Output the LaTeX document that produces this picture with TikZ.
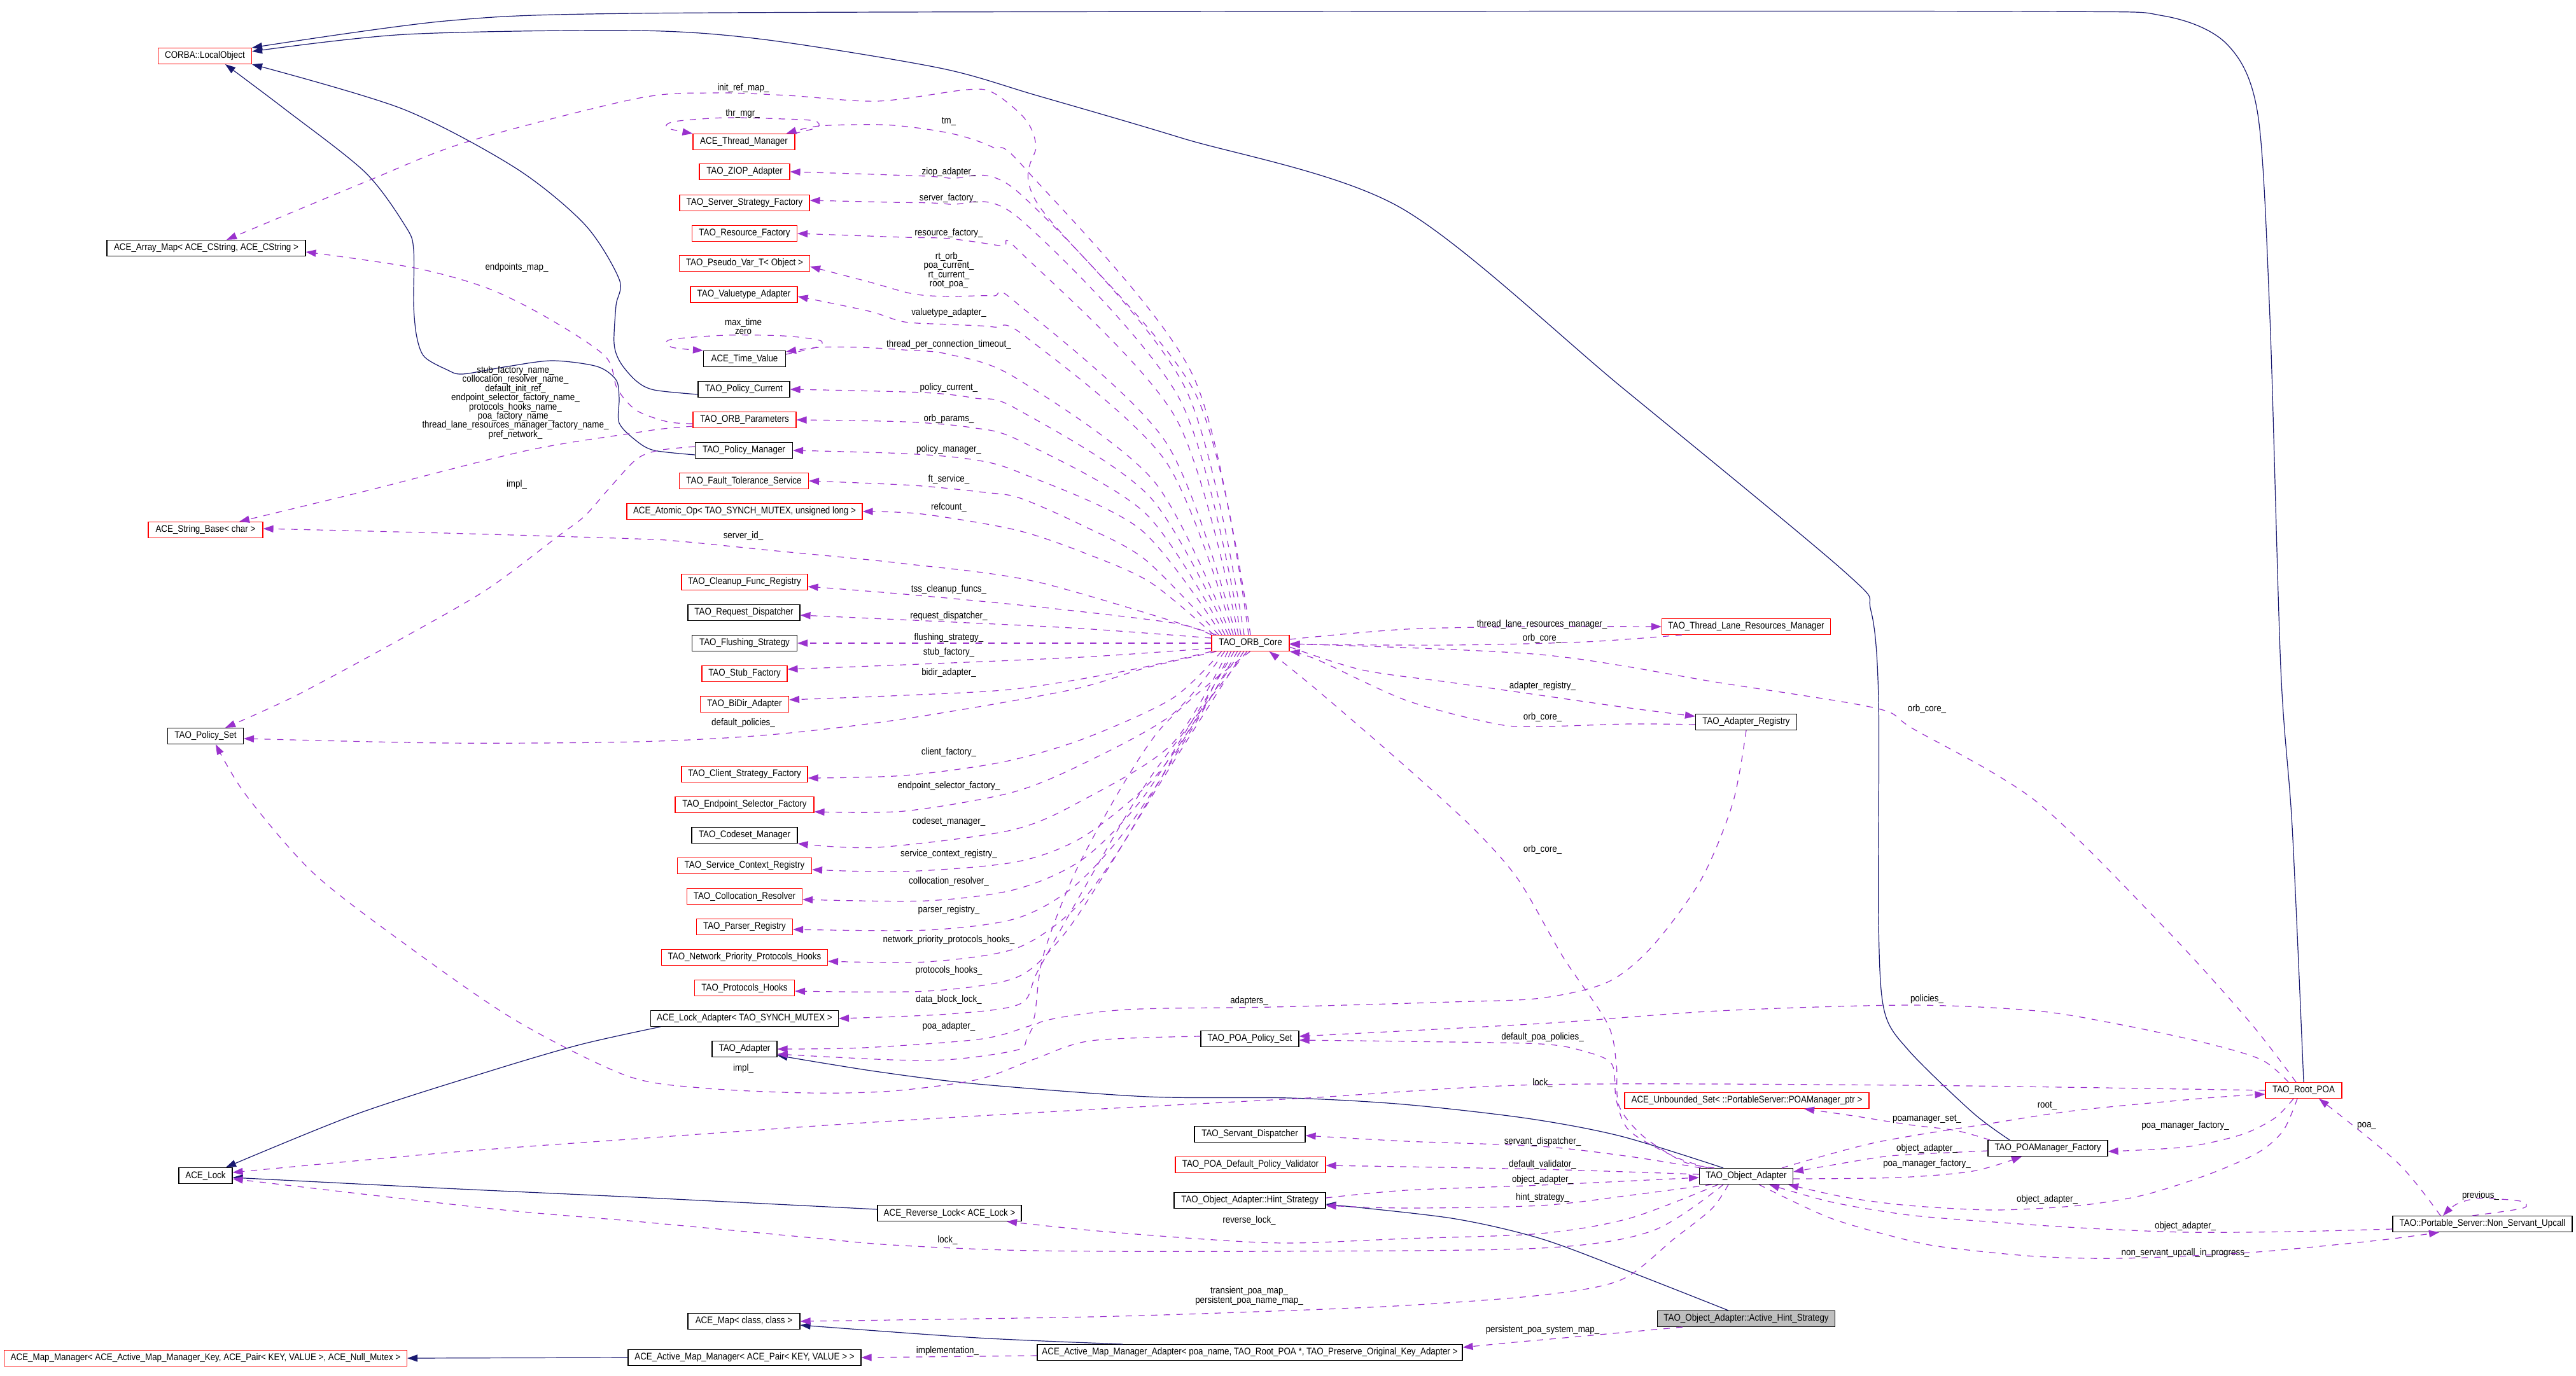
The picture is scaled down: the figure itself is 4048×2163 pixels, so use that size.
\documentclass[tikz,border=0pt]{standalone}
\usepackage{fontspec}
\setmainfont{Liberation Sans}[FakeStretch=0.88]
\usetikzlibrary{arrows.meta}
\definecolor{navy}{HTML}{191970}
\definecolor{purp}{HTML}{9A32CD}
\newcommand\dgf{\fontsize{3.8pt}{3.6pt}\selectfont}
\begin{document}
\begin{tikzpicture}[x=0.25pt,y=0.25pt,
 cbox/.style={draw=black,line width=0.28pt,minimum height=6.25pt,inner sep=0pt,font=\dgf,fill=white},
 rcbox/.style={cbox,draw=red},
 gcbox/.style={cbox,fill=black!25},
 inhline/.style={draw=navy,line width=0.3pt,-{Triangle[length=4pt,width=2.8pt]}},
 depline/.style={draw=purp,line width=0.3pt,dash pattern=on 2.5pt off 2.5pt,-{Triangle[length=4pt,width=2.8pt]}},
 elabel/.style={font=\dgf,inner sep=0pt,align=center}]
\useasboundingbox (0,0) rectangle (4048,-2163);
% ---------------- nodes
\node[rcbox,minimum width=36.75pt] (corba) at (322,-88) {CORBA::LocalObject};
\node[cbox,minimum width=78pt] (arraymap) at (324,-390) {ACE\_Array\_Map< ACE\_CString, ACE\_CString >};
\node[rcbox,minimum width=45pt] (strbase) at (323,-833) {ACE\_String\_Base< char >};
\node[cbox,minimum width=29.75pt] (policyset) at (323,-1157) {TAO\_Policy\_Set};
\node[cbox,minimum width=21pt] (acelock) at (323,-1848) {ACE\_Lock};
\node[rcbox,minimum width=158.25pt] (mapmgr) at (323,-2135) {ACE\_Map\_Manager< ACE\_Active\_Map\_Manager\_Key, ACE\_Pair< KEY, VALUE >, ACE\_Null\_Mutex >};
\node[rcbox,minimum width=40pt] (thrmgr) at (1169,-223) {ACE\_Thread\_Manager};
\node[rcbox,minimum width=35.5pt] (ziop) at (1170,-270) {TAO\_ZIOP\_Adapter};
\node[rcbox,minimum width=51pt] (ssf) at (1170,-319) {TAO\_Server\_Strategy\_Factory};
\node[rcbox,minimum width=41.25pt] (resf) at (1170,-367) {TAO\_Resource\_Factory};
\node[rcbox,minimum width=51.25pt] (pseudo) at (1170,-414) {TAO\_Pseudo\_Var\_T< Object >};
\node[rcbox,minimum width=42pt] (valtype) at (1169,-463) {TAO\_Valuetype\_Adapter};
\node[cbox,minimum width=32.25pt] (timeval) at (1170,-564) {ACE\_Time\_Value};
\node[cbox,minimum width=36pt] (polcur) at (1169,-612) {TAO\_Policy\_Current};
\node[rcbox,minimum width=40.5pt] (orbparams) at (1170,-660) {TAO\_ORB\_Parameters};
\node[cbox,minimum width=38.25pt] (polmgr) at (1169,-708) {TAO\_Policy\_Manager};
\node[rcbox,minimum width=50.75pt] (fts) at (1169,-756) {TAO\_Fault\_Tolerance\_Service};
\node[rcbox,minimum width=92.5pt] (atomic) at (1170,-804) {ACE\_Atomic\_Op< TAO\_SYNCH\_MUTEX, unsigned long >};
\node[rcbox,minimum width=49.5pt] (cleanup) at (1170,-915) {TAO\_Cleanup\_Func\_Registry};
\node[cbox,minimum width=44pt] (reqdisp) at (1169,-963) {TAO\_Request\_Dispatcher};
\node[cbox,minimum width=41.25pt] (flush) at (1170,-1011) {TAO\_Flushing\_Strategy};
\node[rcbox,minimum width=33.5pt] (stubf) at (1170,-1059) {TAO\_Stub\_Factory};
\node[rcbox,minimum width=34.75pt] (bidir) at (1170,-1107) {TAO\_BiDir\_Adapter};
\node[rcbox,minimum width=49.5pt] (csf) at (1170,-1217) {TAO\_Client\_Strategy\_Factory};
\node[rcbox,minimum width=54.5pt] (esf) at (1170,-1265) {TAO\_Endpoint\_Selector\_Factory};
\node[cbox,minimum width=41.5pt] (codeset) at (1170,-1313) {TAO\_Codeset\_Manager};
\node[rcbox,minimum width=52.75pt] (scr) at (1170,-1361) {TAO\_Service\_Context\_Registry};
\node[rcbox,minimum width=45.25pt] (collres) at (1170,-1409) {TAO\_Collocation\_Resolver};
\node[rcbox,minimum width=37.75pt] (parser) at (1170,-1457) {TAO\_Parser\_Registry};
\node[rcbox,minimum width=65.25pt] (nph) at (1170,-1505) {TAO\_Network\_Priority\_Protocols\_Hooks};
\node[rcbox,minimum width=39.25pt] (ph) at (1170,-1553) {TAO\_Protocols\_Hooks};
\node[cbox,minimum width=73.75pt] (lockad) at (1170,-1601) {ACE\_Lock\_Adapter< TAO\_SYNCH\_MUTEX >};
\node[cbox,minimum width=25.5pt] (adapter) at (1170,-1649) {TAO\_Adapter};
\node[cbox,minimum width=56.5pt] (revlock) at (1492,-1907) {ACE\_Reverse\_Lock< ACE\_Lock >};
\node[cbox,minimum width=44pt] (acemap) at (1169,-2077) {ACE\_Map< class, class >};
\node[cbox,minimum width=91.5pt] (actmm) at (1170,-2134) {ACE\_Active\_Map\_Manager< ACE\_Pair< KEY, VALUE > >};
\node[rcbox,minimum width=30.5pt] (orbcore) at (1965,-1011) {TAO\_ORB\_Core};
\node[cbox,minimum width=38.5pt] (poapolset) at (1964,-1633) {TAO\_POA\_Policy\_Set};
\node[cbox,minimum width=43.5pt] (servdisp) at (1964,-1783) {TAO\_Servant\_Dispatcher};
\node[rcbox,minimum width=59pt] (defval) at (1965,-1831) {TAO\_POA\_Default\_Policy\_Validator};
\node[cbox,minimum width=59.5pt] (hint) at (1964,-1887) {TAO\_Object\_Adapter::Hint\_Strategy};
\node[cbox,minimum width=167pt] (amma) at (1964,-2126) {ACE\_Active\_Map\_Manager\_Adapter< poa\_name, TAO\_Root\_POA *, TAO\_Preserve\_Original\_Key\_Adapter >};
\node[rcbox,minimum width=66.25pt] (tlrm) at (2744,-985) {TAO\_Thread\_Lane\_Resources\_Manager};
\node[cbox,minimum width=39.75pt] (adreg) at (2744,-1135) {TAO\_Adapter\_Registry};
\node[rcbox,minimum width=96pt] (unbset) at (2745,-1730) {ACE\_Unbounded\_Set< ::PortableServer::POAManager\_ptr >};
\node[cbox,minimum width=36.75pt] (objad) at (2744,-1849) {TAO\_Object\_Adapter};
\node[gcbox,minimum width=69.75pt] (ahs) at (2744,-2073) {TAO\_Object\_Adapter::Active\_Hint\_Strategy};
\node[rcbox,minimum width=30pt] (rootpoa) at (3620,-1714) {TAO\_Root\_POA};
\node[cbox,minimum width=47pt] (poamf) at (3218,-1805) {TAO\_POAManager\_Factory};
\node[cbox,minimum width=70.5pt] (nsu) at (3901,-1924) {TAO::Portable\_Server::Non\_Servant\_Upcall};
% ---------------- inheritance
\draw[inhline] plot[smooth] coordinates {(rootpoa.north) (3602,-1300) (3584,-1050) (3567,-500) (3548,-180) (3500,-70) (3400,-25) (3200,-18) (2000,-18) (1000,-21) (700,-33) (corba.north east)};
\draw[inhline] plot[smooth] coordinates {([xshift=-15pt]poamf.north) (3100,-1749) (3000,-1652) (2961,-1589) (2952,-1450) (2952,-1100) (2940,-960) (2900,-900) (2550,-610) (2200,-326) (1857,-217) (1629,-150) (1477,-107) (1200,-62) (1000,-48) (638,-54) ([yshift=-1.5pt]corba.north east)};
\draw[inhline] plot[smooth] coordinates {([yshift=-2pt]polcur.west) (1028,-613) (1000,-599) (975,-570) (965,-540) (968,-480) (973,-439) (919,-353) (810,-264) (632,-171) (corba.south east)};
\draw[inhline] plot[smooth] coordinates {([yshift=-1.75pt]polmgr.west) (1028,-708) (1000,-693) (973,-665) (973,-626) (968,-597) (938,-576) (868,-567) (798,-576) (727,-588) (702,-581) (667,-561) (655,-530) (650,-480) (650,-393) (638,-357) (574,-271) (447,-171) ([xshift=8pt]corba.south)};
\draw[inhline] plot[smooth] coordinates {([xshift=4pt]lockad.south west) (912,-1642) (772,-1683) (561,-1751) ([xshift=8pt]acelock.north)};
\draw[inhline] plot[smooth] coordinates {([yshift=1.5pt]revlock.west) (1000,-1882) (700,-1868) ([yshift=-0.75pt]acelock.east)};
\draw[inhline] plot[smooth] coordinates {([xshift=-9pt]objad.north) (2547,-1786) (2400,-1758) (2206,-1736) (2027,-1726) (1804,-1724) (1536,-1704) (1375,-1684) ([yshift=-2.5pt]adapter.east)};
\draw[inhline] plot[smooth] coordinates {([xshift=-7pt]ahs.north) (2561,-1999) (2421,-1947) (2281,-1915) ([yshift=-1.5pt]hint.east)};
\draw[inhline] plot[smooth] coordinates {([xshift=-50pt]amma.north) (1536,-2103) ([yshift=-1.5pt]acemap.east)};
\draw[inhline] (actmm.west) -- (mapmgr.east);
% ---------------- ORB_Core members (upper)
\draw[depline] plot[smooth] coordinates {(orbcore.north) (1879,-620) (1631,-321) (1628,-228) (1610,-186) (1561,-146) (1519,-141) (1379,-159) (1238,-150) (1119,-146) (1000,-155) (734,-223) (574,-286) ([xshift=8pt]arraymap.north)};
\draw[depline] plot[smooth] coordinates {([xshift=-0.75pt]orbcore.north) (1874,-589) (1610,-264) (1561,-232) (1512,-214) (1456,-203) (1386,-196) (1288,-198) ([xshift=-3.5pt]thrmgr.north east)};
\draw[depline] plot[smooth] coordinates {([xshift=-0.5pt]thrmgr.north east) (1285,-200) (1280,-190) (1231,-187) (1140,-185) (1060,-191) (1048,-201) (thrmgr.north west)};
\draw[depline] plot[smooth] coordinates {([xshift=-2.5pt]orbcore.north) (1861,-607) (1600,-302) (1491,-280) (1400,-275) (ziop.east)};
\draw[depline] plot[smooth] coordinates {([xshift=-3.75pt]orbcore.north) (1854,-628) (1600,-342) (1491,-321) (1400,-318) ([yshift=1pt]ssf.east)};
\draw[depline] plot[smooth] coordinates {([xshift=-4.75pt]orbcore.north) (1847,-656) (1603,-396) (1575,-387) (1491,-375) (1421,-373) (resf.east)};
\draw[depline] plot[smooth] coordinates {([xshift=-5.75pt]orbcore.north) (1832,-695) (1596,-475) (1561,-465) (1491,-466) (1435,-462) (1365,-443) ([yshift=-1.25pt]pseudo.east)};
\draw[depline] plot[smooth] coordinates {([xshift=-6.75pt]orbcore.north) (1831,-724) (1610,-528) (1561,-514) (1491,-510) (1421,-506) (1365,-489) ([yshift=-0.75pt]valtype.east)};
\draw[depline] plot[smooth] coordinates {([xshift=-7.75pt]orbcore.north) (1813,-756) (1596,-594) (1491,-557) (1420,-550) (1351,-546) (1288,-546) ([yshift=-0.5pt]timeval.north east)};
\draw[depline] plot[smooth] coordinates {([yshift=-1.5pt]timeval.north east) (1285,-545) (1288,-535) (1231,-528) (1140,-527) (1053,-534) (1056,-546) (timeval.north west)};
\draw[depline] plot[smooth] coordinates {([xshift=-8.75pt]orbcore.north) (1806,-780) (1596,-642) (1533,-626) (1449,-617) (polcur.east)};
\draw[depline] plot[smooth] coordinates {([xshift=-10pt]orbcore.north) (1800,-807) (1603,-693) (1526,-672) (1421,-663) (orbparams.east)};
\draw[depline] plot[smooth] coordinates {([xshift=-11.25pt]orbcore.north) (1792,-832) (1603,-743) (1526,-722) (1421,-713) (polmgr.east)};
\draw[depline] plot[smooth] coordinates {([xshift=-12.5pt]orbcore.north) (1800,-880) (1701,-826) (1603,-783) (1547,-774) (1435,-763) (fts.east)};
\draw[depline] plot[smooth] coordinates {([xshift=1pt]orbcore.north west) (1807,-915) (1701,-868) (1596,-833) (1449,-808) (atomic.east)};
\draw[depline] plot[smooth] coordinates {([xshift=2pt]orbcore.north west) (1631,-915) (1421,-886) (1210,-865) (1070,-851) (1000,-847) (700,-838) ([yshift=0.5pt]strbase.east)};
\draw[depline] plot[smooth] coordinates {(orbcore.north west) (1842,-979) (1631,-954) (1421,-934) ([yshift=-1.75pt]cleanup.east)};
\draw[depline] plot[smooth] coordinates {([yshift=2pt]orbcore.west) (1700,-988) (1500,-978) ([yshift=-1pt]reqdisp.east)};
\draw[depline] (orbcore.west) -- (flush.east);
\draw[depline] plot[smooth] coordinates {([yshift=-2pt]orbcore.west) (1700,-1033) (1421,-1045) ([yshift=1.75pt]stubf.east)};
% ---------------- ORB_Core members (lower)
\draw[depline] plot[smooth] coordinates {(orbcore.south west) (1772,-1054) (1596,-1083) (1421,-1093) ([yshift=1.75pt]bidir.east)};
\draw[depline] plot[smooth] coordinates {([xshift=2pt]orbcore.south west) (1800,-1050) (1680,-1085) (1421,-1130) (1210,-1155) (1000,-1166) (700,-1168) ([yshift=-1pt]policyset.east)};
\draw[depline] plot[smooth] coordinates {([xshift=4pt]orbcore.south west) (1842,-1098) (1701,-1162) (1575,-1198) (1421,-1219) ([yshift=-1.5pt]csf.east)};
\draw[depline] plot[smooth] coordinates {([xshift=5.25pt]orbcore.south west) (1842,-1123) (1701,-1201) (1589,-1246) (1421,-1275) ([yshift=-2.75pt]esf.east)};
\draw[depline] plot[smooth] coordinates {([xshift=6.5pt]orbcore.south west) (1842,-1169) (1701,-1258) (1589,-1305) (1379,-1332) (codeset.south east)};
\draw[depline] plot[smooth] coordinates {([xshift=7.75pt]orbcore.south west) (1877,-1134) (1807,-1230) (1701,-1316) (1596,-1355) (1421,-1370) ([yshift=-1.5pt]scr.east)};
\draw[depline] plot[smooth] coordinates {([xshift=9pt]orbcore.south west) (1884,-1116) (1793,-1258) (1701,-1351) (1596,-1398) (1456,-1416) ([yshift=-1.25pt]collres.east)};
\draw[depline] plot[smooth] coordinates {([xshift=10.25pt]orbcore.south west) (1870,-1151) (1772,-1301) (1687,-1394) (1596,-1444) (1456,-1462) ([yshift=-1pt]parser.east)};
\draw[depline] plot[smooth] coordinates {([xshift=11.5pt]orbcore.south west) (1856,-1169) (1758,-1337) (1687,-1430) (1596,-1491) (1456,-1512) ([yshift=-1.5pt]nph.east)};
\draw[depline] plot[smooth] coordinates {([xshift=12.75pt]orbcore.south west) (1828,-1223) (1730,-1383) (1666,-1476) (1596,-1537) (1456,-1558) ([yshift=-1.25pt]ph.east)};
\draw[depline] plot[smooth] coordinates {([xshift=14pt]orbcore.south west) (1807,-1223) (1701,-1401) (1631,-1526) (1603,-1578) (1491,-1594) (lockad.east)};
\draw[depline] plot[smooth] coordinates {([xshift=15.25pt]orbcore.south west) (1820,-1150) (1700,-1350) (1640,-1500) (1625,-1600) (1607,-1616) (1536,-1634) (1357,-1647) (adapter.east)};
% ---------------- ORB_Core right side
\draw[depline] plot[smooth] coordinates {([yshift=1.5pt]orbcore.east) (2210,-989) (2421,-985) (tlrm.west)};
\draw[depline] plot[smooth] coordinates {([xshift=8pt]tlrm.south west) (2491,-1009) (2281,-1014) ([yshift=-0.5pt]orbcore.east)};
\draw[depline] plot[smooth] coordinates {([yshift=-1.5pt]orbcore.east) (2140,-1053) (2281,-1073) (2421,-1093) (2561,-1113) ([yshift=2.25pt]adreg.west)};
\draw[depline] plot[smooth] coordinates {([yshift=-1pt]adreg.west) (2561,-1138) (2421,-1142) (2351,-1138) (2210,-1101) (2070,-1037) (orbcore.south east)};
\draw[depline] plot[smooth] coordinates {(adreg.south) (2723,-1262) (2673,-1383) (2596,-1488) (2526,-1544) (2421,-1569) (2281,-1575) (2000,-1583) (1770,-1587) (1640,-1605) (1615,-1630) (1600,-1650) (1500,-1665) (1402,-1666) ([yshift=-2pt]adapter.east)};
\draw[depline] plot[smooth] coordinates {([xshift=-12.5pt]objad.north) (2645,-1826) (2582,-1786) (2544,-1738) (2540,-1673) (2526,-1609) (2456,-1504) (2386,-1383) (2316,-1303) (2210,-1206) (2070,-1085) ([xshift=-8pt]orbcore.south east)};
\draw[depline] plot[smooth] coordinates {([xshift=-3pt]rootpoa.north) (3534,-1605) (3401,-1458) (3200,-1260) (3007,-1146) (2947,-1113) (2701,-1073) (2421,-1029) ([yshift=-0.25pt]orbcore.east)};
% ---------------- ORB_Parameters, Policy_Manager, POA_Policy_Set
\draw[depline] plot[smooth] coordinates {([yshift=-1.5pt]orbparams.west) (1049,-663) (1000,-645) (970,-611) (951,-560) (861,-500) (766,-453) (651,-421) ([yshift=-1.5pt]arraymap.east)};
\draw[depline] plot[smooth] coordinates {([yshift=-2.5pt]orbparams.west) (1042,-674) (1000,-680) (829,-708) (574,-772) ([xshift=13.25pt]strbase.north)};
\draw[depline] plot[smooth] coordinates {([yshift=1.5pt]polmgr.west) (1035,-708) (1000,-722) (957,-768) (919,-811) (877,-843) (766,-926) (638,-1000) (466,-1093) ([xshift=7.75pt]policyset.north)};
\draw[depline] plot[smooth] coordinates {([yshift=1pt]poapolset.west) (1714,-1636) (1625,-1665) (1536,-1697) (1402,-1715) (1268,-1718) (1100,-1710) (982,-1690) (807,-1602) (631,-1480) (491,-1371) (386,-1249) ([xshift=4pt]policyset.south)};
% ---------------- Root_POA
\draw[depline] plot[smooth] coordinates {([xshift=-6pt]rootpoa.north) (3554,-1666) (3468,-1640) (3334,-1611) (3200,-1589) (3000,-1580) (2701,-1589) (2421,-1609) ([yshift=1pt]poapolset.east)};
\draw[depline] plot[smooth] coordinates {(rootpoa.west) (3000,-1706) (2421,-1705) (2054,-1726) (1714,-1744) (1357,-1765) (1000,-1790) (701,-1812) ([yshift=1.25pt]acelock.east)};
\draw[depline] plot[smooth] coordinates {([xshift=14pt]objad.north) (2947,-1796) (3134,-1765) (3267,-1745) (3468,-1726) ([yshift=-1.5pt]rootpoa.west)};
\draw[depline] plot[smooth] coordinates {([xshift=-22.75pt]poamf.north) (3073,-1777) (3000,-1768) (2912,-1754) ([xshift=22.5pt]unbset.south)};
\draw[depline] plot[smooth] coordinates {([yshift=-1pt]poamf.west) (3000,-1815) (2947,-1820) ([yshift=1.75pt]objad.east)};
\draw[depline] plot[smooth] coordinates {([yshift=-1pt]objad.east) (2982,-1851) (3100,-1841) ([xshift=-10.25pt]poamf.south)};
\draw[depline] plot[smooth] coordinates {([xshift=-4pt]rootpoa.south) (3574,-1758) (3521,-1784) (3434,-1803) ([yshift=-1.25pt]poamf.east)};
\draw[depline] plot[smooth] coordinates {([xshift=-2.5pt]rootpoa.south) (3588,-1777) (3548,-1812) (3468,-1847) (3367,-1879) (3267,-1895) (3134,-1902) (3000,-1895) (2900,-1882) ([xshift=-2pt]objad.south east)};
\draw[depline] plot[smooth] coordinates {([yshift=-2pt]nsu.west) (3601,-1936) (3434,-1937) (3267,-1930) (3134,-1921) (3000,-1910) (2880,-1890) ([xshift=9pt]objad.south)};
\draw[depline] plot[smooth] coordinates {([xshift=5pt]objad.south) (2877,-1915) (3000,-1950) (3067,-1962) (3200,-1975) (3334,-1978) (3534,-1969) (3735,-1950) ([xshift=-17pt]nsu.south)};
\draw[depline] plot[smooth] coordinates {([xshift=-16.5pt]nsu.north) (3768,-1828) ([xshift=6pt]rootpoa.south)};
\draw[depline] plot[smooth] coordinates {([xshift=-4pt]nsu.north) (3965,-1899) (3960,-1888) (3895,-1884) (3860,-1893) ([xshift=-15.5pt]nsu.north)};
% ---------------- Object_Adapter members
\draw[depline] plot[smooth] coordinates {([xshift=-15pt]objad.north) (2631,-1818) (2561,-1778) (2540,-1730) (2533,-1673) (2491,-1653) (2421,-1641) (2210,-1637) ([yshift=-0.5pt]poapolset.east)};
\draw[depline] plot[smooth] coordinates {([xshift=-17.75pt]objad.north) (2561,-1818) (2421,-1802) (2210,-1794) ([yshift=-0.5pt]servdisp.east)};
\draw[depline] plot[smooth] coordinates {([yshift=0.75pt]objad.west) (2421,-1838) ([yshift=-0.25pt]defval.east)};
\draw[depline] plot[smooth] coordinates {([yshift=1pt]hint.east) (2210,-1871) (2421,-1863) ([yshift=-0.5pt]objad.west)};
\draw[depline] plot[smooth] coordinates {([xshift=-13.5pt]objad.south) (2561,-1879) (2421,-1895) (2210,-1899) ([yshift=-2pt]hint.east)};
\draw[depline] plot[smooth] coordinates {([xshift=-11pt]objad.south) (2561,-1915) (2421,-1939) (2210,-1947) (2027,-1954) (1893,-1948) (1714,-1934) ([xshift=22.5pt]revlock.south)};
\draw[depline] plot[smooth] coordinates {([xshift=-9pt]objad.south) (2596,-1935) (2421,-1962) (2000,-1967) (1625,-1966) (1402,-1957) (1268,-1945) (1000,-1920) (772,-1900) ([yshift=-1.25pt]acelock.east)};
\draw[depline] plot[smooth] coordinates {([xshift=-7pt]objad.south) (2690,-1900) (2631,-1947) (2547,-2012) (2421,-2036) (2210,-2052) (2000,-2061) (1714,-2070) (acemap.east)};
\draw[depline] plot[smooth] coordinates {([xshift=-25pt]ahs.south) (2491,-2100) (2380,-2110) ([yshift=2pt]amma.east)};
\draw[depline] ([yshift=-1.25pt]amma.west) -- (actmm.east);
% ---------------- labels
\node[elabel] (l01) at (1168,-139) {init\_ref\_map\_};
\node[elabel] (l02) at (1167,-179) {thr\_mgr\_};
\node[elabel] (l03) at (1491,-191) {tm\_};
\node[elabel] (l04) at (1491,-271) {ziop\_adapter\_};
\node[elabel] (l05) at (1491,-312) {server\_factory\_};
\node[elabel] (l06) at (1491,-367) {resource\_factory\_};
\node[elabel] (l07) at (1491,-425) {rt\_orb\_\\poa\_current\_\\rt\_current\_\\root\_poa\_};
\node[elabel] (l08) at (1491,-492) {valuetype\_adapter\_};
\node[elabel] (l09) at (1168,-513) {max\_time\\zero};
\node[elabel] (l10) at (1491,-542) {thread\_per\_connection\_timeout\_};
\node[elabel] (l11) at (812,-421) {endpoints\_map\_};
\node[elabel] (l12) at (810,-633) {stub\_factory\_name\_\\collocation\_resolver\_name\_\\default\_init\_ref\_\\endpoint\_selector\_factory\_name\_\\protocols\_hooks\_name\_\\poa\_factory\_name\_\\thread\_lane\_resources\_manager\_factory\_name\_\\pref\_network\_};
\node[elabel] (l13) at (812,-762) {impl\_};
\node[elabel] (l14) at (1491,-610) {policy\_current\_};
\node[elabel] (l15) at (1491,-659) {orb\_params\_};
\node[elabel] (l16) at (1491,-707) {policy\_manager\_};
\node[elabel] (l17) at (1491,-753) {ft\_service\_};
\node[elabel] (l18) at (1491,-798) {refcount\_};
\node[elabel] (l19) at (1168,-842) {server\_id\_};
\node[elabel] (l20) at (1491,-927) {tss\_cleanup\_funcs\_};
\node[elabel] (l21) at (1491,-969) {request\_dispatcher\_};
\node[elabel] (l22) at (1491,-1003) {flushing\_strategy\_};
\node[elabel] (l23) at (1491,-1026) {stub\_factory\_};
\node[elabel] (l24) at (1491,-1058) {bidir\_adapter\_};
\node[elabel] (l25) at (1168,-1137) {default\_policies\_};
\node[elabel] (l26) at (1491,-1183) {client\_factory\_};
\node[elabel] (l27) at (1491,-1236) {endpoint\_selector\_factory\_};
\node[elabel] (l28) at (1491,-1292) {codeset\_manager\_};
\node[elabel] (l29) at (1491,-1343) {service\_context\_registry\_};
\node[elabel] (l30) at (1491,-1385) {collocation\_resolver\_};
\node[elabel] (l31) at (1491,-1431) {parser\_registry\_};
\node[elabel] (l32) at (1491,-1478) {network\_priority\_protocols\_hooks\_};
\node[elabel] (l33) at (1491,-1526) {protocols\_hooks\_};
\node[elabel] (l34) at (1491,-1571) {data\_block\_lock\_};
\node[elabel] (l35) at (1491,-1614) {poa\_adapter\_};
\node[elabel] (l36) at (1168,-1680) {impl\_};
\node[elabel] (l37) at (1963,-1574) {adapters\_};
\node[elabel] (l38) at (2423,-982) {thread\_lane\_resources\_manager\_};
\node[elabel] (l39) at (2423,-1003) {orb\_core\_};
\node[elabel] (l40) at (2424,-1079) {adapter\_registry\_};
\node[elabel] (l41) at (2424,-1127) {orb\_core\_};
\node[elabel] (l42) at (2424,-1335) {orb\_core\_};
\node[elabel] (l43) at (3028,-1114) {orb\_core\_};
\node[elabel] (l44) at (3028,-1571) {policies\_};
\node[elabel] (l45) at (2424,-1631) {default\_poa\_policies\_};
\node[elabel] (l46) at (2424,-1702) {lock\_};
\node[elabel] (l47) at (3028,-1759) {poamanager\_set\_};
\node[elabel] (l48) at (2424,-1795) {servant\_dispatcher\_};
\node[elabel] (l49) at (3028,-1806) {object\_adapter\_};
\node[elabel] (l50) at (3028,-1830) {poa\_manager\_factory\_};
\node[elabel] (l51) at (2424,-1830) {default\_validator\_};
\node[elabel] (l52) at (2424,-1855) {object\_adapter\_};
\node[elabel] (l53) at (2424,-1883) {hint\_strategy\_};
\node[elabel] (l54) at (1963,-1918) {reverse\_lock\_};
\node[elabel] (l55) at (1489,-1949) {lock\_};
\node[elabel] (l56) at (1963,-2037) {transient\_poa\_map\_\\persistent\_poa\_name\_map\_};
\node[elabel] (l57) at (2424,-2091) {persistent\_poa\_system\_map\_};
\node[elabel] (l58) at (1489,-2124) {implementation\_};
\node[elabel] (l59) at (3217,-1738) {root\_};
\node[elabel] (l60) at (3434,-1770) {poa\_manager\_factory\_};
\node[elabel] (l61) at (3719,-1770) {poa\_};
\node[elabel] (l62) at (3217,-1886) {object\_adapter\_};
\node[elabel] (l63) at (3898,-1880) {previous\_};
\node[elabel] (l64) at (3434,-1928) {object\_adapter\_};
\node[elabel] (l65) at (3434,-1970) {non\_servant\_upcall\_in\_progress\_};
\end{tikzpicture}
\end{document}
